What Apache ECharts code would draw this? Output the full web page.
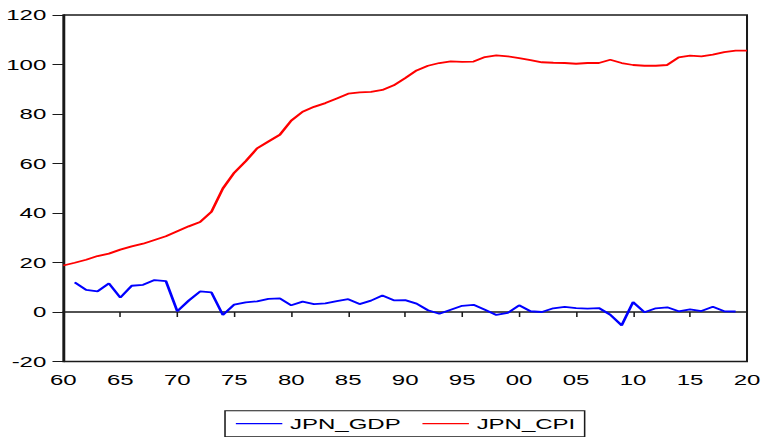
<!DOCTYPE html>
<html>
<head>
<meta charset="utf-8">
<script src="https://cdn.jsdelivr.net/npm/echarts@6/dist/echarts.min.js"></script>
<style>
  html, body { margin: 0; padding: 0; background: #fff; overflow: hidden; }
  /* EViews-style wide lettering: the chart is laid out narrow and stretched horizontally */
  #chart { width: 494px; height: 437px; transform: scaleX(1.5486); transform-origin: 0 0; }
</style>
</head>
<body>
<div id="chart"></div>
<script>
// Japan, annual: real GDP growth (%) and CPI index
const cpiYears = [];
for (let y = 1960; y <= 2020; y++) cpiYears.push(y);
const gdpYears = [];
for (let y = 1961; y <= 2019; y++) gdpYears.push(y);

const JPN_CPI = [
  18.8, 19.9, 21.1, 22.6, 23.6, 25.2, 26.5, 27.6, 29.1, 30.6,
  32.6, 34.6, 36.4, 40.5, 49.9, 56.3, 60.9, 66.1, 68.9, 71.6,
  77.3, 80.9, 82.9, 84.4, 86.3, 88.2, 88.7, 88.9, 89.7, 91.6,
  94.5, 97.6, 99.5, 100.6, 101.3, 101.1, 101.2, 103.0, 103.7, 103.3,
  102.6, 101.8, 100.9, 100.7, 100.6, 100.3, 100.6, 100.6, 101.9, 100.6,
  99.8, 99.5, 99.5, 99.8, 102.9, 103.6, 103.3, 104.0, 105.0, 105.6,
  105.6
];

const JPN_GDP = [
  12.0, 8.9, 8.3, 11.6, 5.8, 10.6, 11.0, 12.9, 12.5,
  0.3, 4.6, 8.3, 7.9, -1.2, 3.0, 3.9, 4.3, 5.3, 5.5,
  2.7, 4.2, 3.2, 3.5, 4.4, 5.2, 3.2, 4.6, 6.7, 4.7,
  4.8, 3.4, 0.7, -0.7, 0.9, 2.5, 2.9, 0.9, -1.2, -0.4,
  2.7, 0.3, 0.0, 1.5, 2.1, 1.6, 1.4, 1.6, -1.1, -5.4,
  4.0, -0.1, 1.5, 1.9, 0.3, 1.1, 0.4, 2.1, 0.3, 0.2
];

const FONT = '"Liberation Sans", Arial, sans-serif';
const INK = '#1a1a1a';

const chart = echarts.init(document.getElementById('chart'), null, { renderer: 'svg' });

chart.setOption({
  animation: false,
  backgroundColor: '#fff',
  grid: {
    left: 40.9, right: 9.7, top: 15, bottom: 75.5,
    show: true, borderColor: INK, borderWidth: 1.3, backgroundColor: 'transparent'
  },
  xAxis: {
    type: 'value', min: 1960, max: 2020, interval: 5,
    axisLine: { show: true, lineStyle: { color: INK, width: 1.5 } },
    axisTick: { show: true, inside: false, length: 5, lineStyle: { color: INK, width: 1 } },
    axisLabel: {
      margin: 10, color: '#000', fontFamily: FONT, fontSize: 15.5,
      formatter: v => String(v % 100).padStart(2, '0')
    },
    splitLine: { show: false }
  },
  yAxis: {
    type: 'value', min: -20, max: 120, interval: 20,
    axisLine: { show: true, onZero: false, lineStyle: { color: INK, width: 1.3 } },
    axisTick: { show: true, inside: false, length: 7, lineStyle: { color: INK, width: 1 } },
    axisLabel: { margin: 11, color: '#000', fontFamily: FONT, fontSize: 15.5 },
    splitLine: { show: false }
  },
  legend: {
    left: 145.3, top: 410.7,
    orient: 'horizontal',
    padding: [5, 6, 5, 7],
    icon: 'rect',
    itemWidth: 30, itemHeight: 1.3, itemGap: 14,
    borderColor: INK, borderWidth: 1, borderRadius: 0,
    textStyle: { color: '#000', fontFamily: FONT, fontSize: 15.5 },
    data: ['JPN_GDP', 'JPN_CPI']
  },
  series: [
    {
      name: 'JPN_GDP', type: 'line', symbol: 'none',
      color: '#0000ff',
      lineStyle: { color: '#0000ff', width: 1.8 },
      data: gdpYears.map((y, i) => [y, JPN_GDP[i]])
    },
    {
      name: 'JPN_CPI', type: 'line', symbol: 'none',
      color: '#ff0000',
      lineStyle: { color: '#ff0000', width: 1.8 },
      data: cpiYears.map((y, i) => [y, JPN_CPI[i]])
    }
  ]
});
</script>
</body>
</html>
